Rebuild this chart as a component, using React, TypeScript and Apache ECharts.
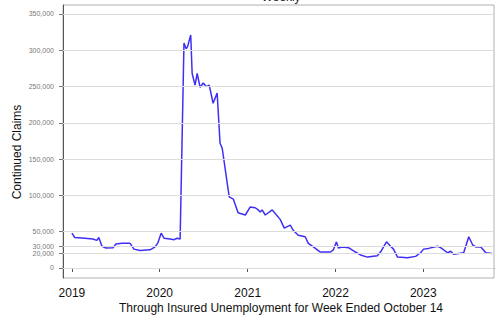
import React, { useEffect, useRef } from "react";
import * as echarts from "echarts";

const dates: string[] = [
  "2019-01-01", "2019-01-13", "2019-02-24", "2019-03-29", "2019-04-15", "2019-04-23",
  "2019-05-06", "2019-05-23", "2019-06-21", "2019-07-03", "2019-07-28", "2019-08-31",
  "2019-09-16", "2019-10-11", "2019-11-22", "2019-12-13", "2019-12-25", "2020-01-07",
  "2020-01-19", "2020-02-13", "2020-03-01", "2020-03-13", "2020-03-26", "2020-04-11",
  "2020-04-20", "2020-04-26", "2020-05-09", "2020-05-15", "2020-05-27", "2020-06-05",
  "2020-06-17", "2020-06-30", "2020-07-12", "2020-07-25", "2020-08-10", "2020-08-27",
  "2020-09-08", "2020-09-17", "2020-10-16", "2020-11-02", "2020-11-22", "2020-12-22",
  "2021-01-11", "2021-02-01", "2021-02-14", "2021-02-22", "2021-03-02", "2021-03-15",
  "2021-04-13", "2021-05-16", "2021-06-02", "2021-06-27", "2021-07-09", "2021-07-30",
  "2021-08-28", "2021-09-10", "2021-10-01", "2021-10-30", "2021-12-11", "2021-12-23",
  "2022-01-05", "2022-01-13", "2022-01-30", "2022-02-24", "2022-03-25", "2022-04-15",
  "2022-05-14", "2022-06-24", "2022-07-07", "2022-08-01", "2022-08-18", "2022-08-30",
  "2022-09-16", "2022-10-27", "2022-11-30", "2022-12-21", "2023-01-02", "2023-01-23",
  "2023-03-01", "2023-03-14", "2023-04-12", "2023-04-25", "2023-05-07", "2023-05-28",
  "2023-06-18", "2023-07-09", "2023-07-25", "2023-08-07", "2023-08-28", "2023-09-18",
  "2023-10-14",
];

const claims: number[] = [
  48000, 42000, 41000, 40000, 38000, 42000,
  30000, 27500, 28000, 33000, 34000, 34000,
  26000, 24000, 25000, 29000, 35000, 48000,
  41000, 40000, 39000, 41000, 40000, 310000,
  302000, 305000, 321000, 268000, 252000, 268000,
  249000, 255000, 250000, 252000, 227000, 241000,
  172000, 165000, 98000, 95000, 76000, 73000,
  84000, 83000, 80000, 77000, 80000, 73000,
  80000, 67000, 55000, 59000, 52000, 45000,
  43000, 34000, 29000, 22000, 22000, 25000,
  36000, 27500, 29000, 28000, 22000, 18000,
  15000, 17000, 22000, 36000, 30000, 26000,
  15000, 14000, 16000, 21000, 26000, 27000,
  30000, 28000, 21000, 23000, 19000, 20000,
  21000, 43000, 32000, 29000, 29000, 21000,
  20000,
];

const yTicks: number[] = [0, 20000, 30000, 50000, 100000, 150000, 200000, 250000, 300000, 350000];
const yearTicks: string[] = ["2019-01-01", "2020-01-01", "2021-01-01", "2022-01-01", "2023-01-01"];
const xRange: string[] = ["2018-11-25", "2023-10-22"];

const titleText = "Weekly";
const yTitle = "Continued Claims";
const xTitle = "Through Insured Unemployment for Week Ended October 14";

const ts = (d: string) => +echarts.time.parse(d);

export default function App() {
  const ref = useRef<HTMLDivElement>(null);
  useEffect(() => {
    if (!ref.current) return;
    const chart = echarts.init(ref.current, null, { renderer: "svg" });
    const data = dates.map((d, i) => [ts(d), claims[i]]);
    const yearVals = yearTicks.map(ts);
    chart.setOption({
      animation: false,
      grid: {
        left: 63,
        right: 3,
        top: 5,
        bottom: 37,
        show: true,
        borderColor: "#b0b0b0",
        borderWidth: 1,
      },
      xAxis: {
        type: "value",
        min: ts(xRange[0]),
        max: ts(xRange[1]),
        axisLine: { show: true, lineStyle: { color: "#555", width: 1 } },
        axisTick: { show: true, length: 4, lineStyle: { color: "#555" }, customValues: yearVals },
        axisLabel: {
          customValues: yearVals,
          formatter: (v: number) => String(new Date(v).getFullYear()),
          color: "#111",
          fontSize: 12,
          fontFamily: "Liberation Sans, Arial, sans-serif",
          margin: 9,
        },
        splitLine: { show: false },
      },
      yAxis: {
        type: "value",
        min: -13800,
        max: 362400,
        axisLine: { show: true, lineStyle: { color: "#555", width: 1 } },
        axisTick: { show: true, length: 4, lineStyle: { color: "#777" }, customValues: yTicks },
        axisLabel: {
          customValues: yTicks,
          formatter: (v: number) => v.toLocaleString("en-US"),
          color: "#777",
          fontSize: 7,
          fontFamily: "Liberation Sans, Arial, sans-serif",
          margin: 9,
        },
        splitLine: { show: false },
      },
      graphic: [
        {
          type: "text",
          x: 281,
          y: 3,
          style: {
            text: titleText,
            fill: "#222",
            fontSize: 12,
            fontFamily: "Liberation Sans, Arial, sans-serif",
            align: "center",
            verticalAlign: "bottom",
          },
        },
        {
          type: "text",
          x: 17,
          y: 152,
          rotation: Math.PI / 2,
          style: {
            text: yTitle,
            fill: "#111",
            fontSize: 12,
            fontFamily: "Liberation Sans, Arial, sans-serif",
            align: "center",
            verticalAlign: "middle",
          },
        },
        {
          type: "text",
          x: 281,
          y: 308,
          style: {
            text: xTitle,
            fill: "#111",
            fontSize: 12,
            fontFamily: "Liberation Sans, Arial, sans-serif",
            align: "center",
            verticalAlign: "middle",
          },
        },
      ],
      series: [
        {
          type: "line",
          data,
          showSymbol: false,
          symbol: "none",
          lineStyle: { color: "#3f2ff5", width: 1.5 },
          markLine: {
            silent: true,
            symbol: "none",
            label: { show: false },
            lineStyle: { color: "#dcdcdc", width: 1, type: "solid" },
            data: yTicks.map((v) => ({ yAxis: v })),
          },
          z: 3,
        },
      ],
    });
    return () => chart.dispose();
  }, []);
  return (
    <div
      ref={ref}
      style={{ position: "fixed", left: 0, top: 0, width: 497, height: 315, background: "#fff" }}
    />
  );
}
